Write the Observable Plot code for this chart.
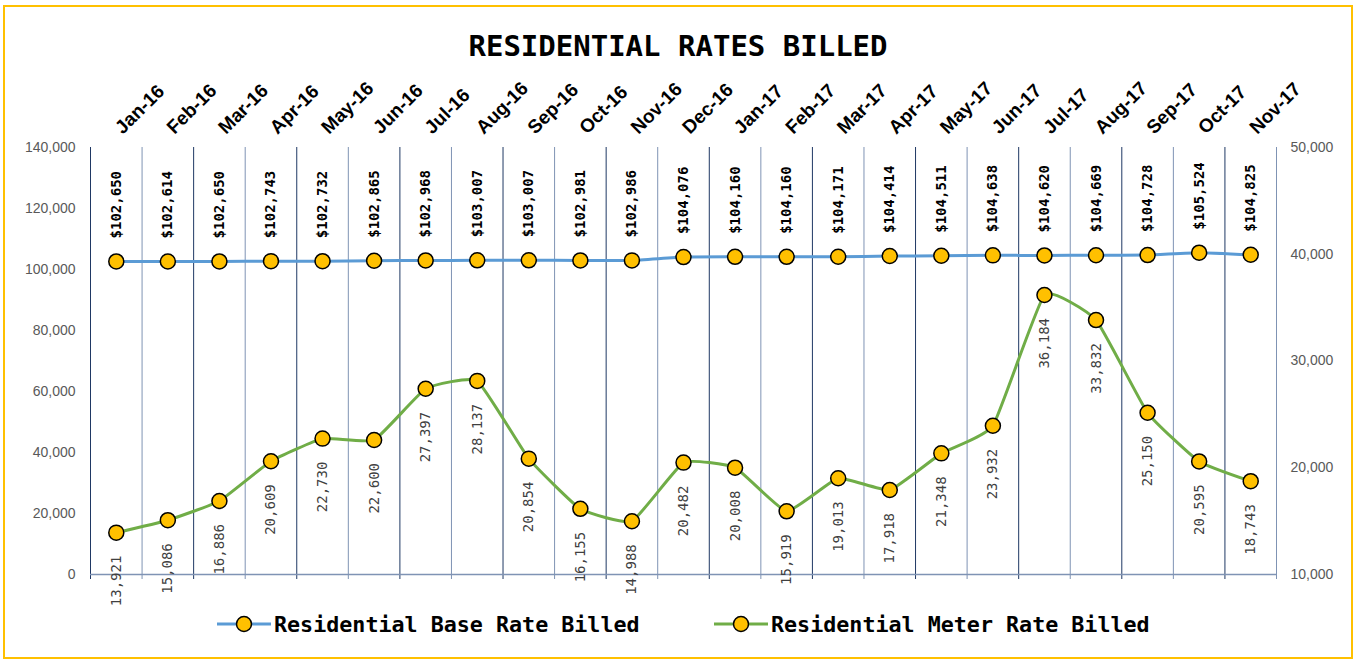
<!DOCTYPE html>
<html><head><meta charset="utf-8">
<script src="https://cdn.jsdelivr.net/npm/d3@7"></script>
<script src="https://cdn.jsdelivr.net/npm/@observablehq/plot@0.6"></script>
<style>
body{margin:0;background:#fff;}
#wrap{position:relative;width:1356px;height:662px;overflow:hidden;background:#fff}
#chart{position:absolute;left:0;top:0}
#frame{position:absolute;left:3px;top:5px;width:1346px;height:650px;border:2px solid #FFC000;pointer-events:none}
#title{position:absolute;left:0;top:30px;width:1356px;text-align:center;font:bold 29px "DejaVu Sans Mono",monospace;line-height:32px;color:#000}
.leg{position:absolute;top:612px;display:flex;align-items:center;font:bold 21.7px "DejaVu Sans Mono",monospace;color:#000;height:24px;white-space:nowrap}
.leg svg{margin-right:3px}
</style></head>
<body>
<div id="wrap">
  <div id="chart"></div>
  <div id="title">RESIDENTIAL RATES BILLED</div>
  <div class="leg" id="leg1" style="left:217px"></div>
  <div class="leg" id="leg2" style="left:714px"></div>
  <div id="frame"></div>
</div>
<script>
const months = ["Jan-16","Feb-16","Mar-16","Apr-16","May-16","Jun-16","Jul-16","Aug-16","Sep-16","Oct-16","Nov-16","Dec-16",
  "Jan-17","Feb-17","Mar-17","Apr-17","May-17","Jun-17","Jul-17","Aug-17","Sep-17","Oct-17","Nov-17"];
const baseRate = [102650,102614,102650,102743,102732,102865,102968,103007,103007,102981,102986,104076,
  104160,104160,104171,104414,104511,104638,104620,104669,104728,105524,104825];
const meterRate = [13921,15086,16886,20609,22730,22600,27397,28137,20854,16155,14988,20482,
  20008,15919,19013,17918,21348,23932,36184,33832,25150,20595,18743];
const leftTicks = [0,20000,40000,60000,80000,100000,120000,140000];
const rightTicks = [10000,20000,30000,40000,50000];
const seriesNames = ["Residential Base Rate Billed","Residential Meter Rate Billed"];
const seriesColors = ["#5B9BD5","#70AD47"];

// right axis (10,000–50,000) mapped onto left scale (0–140,000)
const toLeft = v => (v - 10000) * 140000 / 40000;
const fromLeft = v => v * 40000 / 140000 + 10000;
const fmt = d3.format(",");

const base = months.map((m,i)=>({i, m, v: baseRate[i]}));
const meter = months.map((m,i)=>({i, m, v: meterRate[i], y: toLeft(meterRate[i])}));
const bounds = d3.range(months.length+1).map(k => ({x: k-0.5, k}));

const chart = Plot.plot({
  width:1356, height:662, marginTop:147, marginBottom:88, marginLeft:90, marginRight:80,
  x:{type:"linear", domain:[-0.5, months.length-0.5], axis:null},
  y:{domain:[0,140000]},
  style:{background:"transparent", fontFamily:"Liberation Sans, Arial, sans-serif", overflow:"visible"},
  marks:[
    Plot.ruleX(bounds.filter(d=>d.k%2===0), {x:"x", stroke:"#1F3864", strokeWidth:1, insetBottom:-5}),
    Plot.ruleX(bounds.filter(d=>d.k%2===1), {x:"x", stroke:"#7F93B4", strokeWidth:1, insetBottom:-5}),
    Plot.ruleY([0], {stroke:"#7F93B4", strokeWidth:1.5}),
    Plot.axisY({anchor:"left", ticks:leftTicks, tickSize:0, tickPadding:15, tickFormat:fmt, fontSize:14, color:"#595959", label:null}),
    Plot.axisY({anchor:"right", ticks:rightTicks.map(toLeft), tickSize:0, tickPadding:14,
      tickFormat:d=>fmt(Math.round(fromLeft(d))), fontSize:14, color:"#595959", label:null}),
    Plot.text(months, {x:(d,i)=>i, frameAnchor:"top", dx:-3, dy:-22, rotate:-45, textAnchor:"start",
      fontSize:19, fontWeight:"bold", fill:"#000", ariaLabel:"monthlabels"}),
    Plot.line(base, {x:"i", y:"v", stroke:seriesColors[0], strokeWidth:3, curve:"cardinal", tension:0.6}),
    Plot.line(meter, {x:"i", y:"y", stroke:seriesColors[1], strokeWidth:3, curve:"cardinal", tension:0.6}),
    Plot.dot(base, {x:"i", y:"v", r:7.5, fill:"#FFC000", stroke:"#000", strokeWidth:1.5}),
    Plot.dot(meter, {x:"i", y:"y", r:7.5, fill:"#FFC000", stroke:"#000", strokeWidth:1.5}),
    Plot.text(base, {x:"i", y:"v", text:d=>"$"+fmt(d.v), rotate:-90, textAnchor:"start", dy:-23,
      fontFamily:"DejaVu Sans Mono", fontWeight:"bold", fontSize:14, fill:"#000"}),
    Plot.text(meter, {x:"i", y:"y", text:d=>fmt(d.v), rotate:-90, textAnchor:"end", dy:23,
      fontFamily:"DejaVu Sans Mono", fontSize:14, fill:"#404040"})
  ]
});
d3.select(chart).selectAll('g[aria-label="monthlabels"] text').attr("letter-spacing","1px");
document.getElementById("chart").appendChild(chart);

function swatch(color){
  return `<svg width="54" height="24"><line x1="0" x2="54" y1="12" y2="12" stroke="${color}" stroke-width="3"/>`+
    `<circle cx="27" cy="12" r="7.5" fill="#FFC000" stroke="#000" stroke-width="1.5"/></svg>`;
}
document.getElementById("leg1").innerHTML = swatch(seriesColors[0]) + `<span>${seriesNames[0]}</span>`;
document.getElementById("leg2").innerHTML = swatch(seriesColors[1]) + `<span>${seriesNames[1]}</span>`;
</script>
</body></html>
